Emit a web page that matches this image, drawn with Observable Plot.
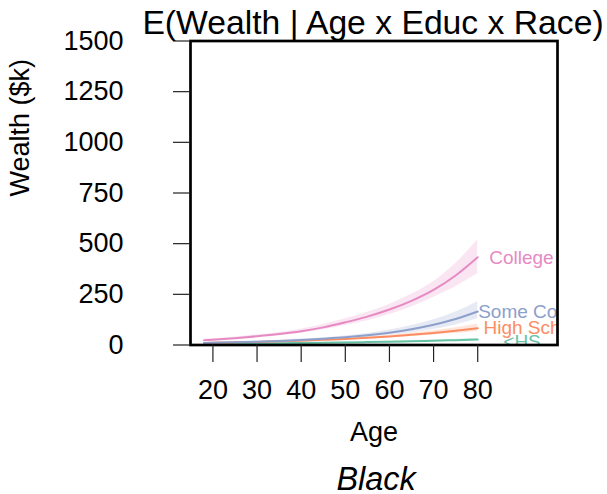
<!DOCTYPE html>
<html><head><meta charset="utf-8">
<script src="https://cdn.jsdelivr.net/npm/d3@7"></script>
<script src="https://cdn.jsdelivr.net/npm/@observablehq/plot@0.6"></script>
<style>body{margin:0;background:#fff}</style>
</head><body><div id="chart"></div>
<script>
// Categories and colours
const educLevels = ["<HS", "High School", "Some College", "College"];
const educColors = ["#66C2A5", "#FC8D62", "#8DA0CB", "#E78AC3"];

// Ages at which the expected wealth is read
const ages = [18, 20, 25, 30, 35, 40, 45, 50, 55, 60, 65, 70, 75, 80];

// Expected wealth ($k) and interval, per education level
const meanLHS  = [5.5, 5.8, 6.6, 7.5, 8.5, 9.7, 11, 12.5, 14.2, 16.2, 18.4, 21, 23.8, 27];
const lowLHS   = [4.6, 4.9, 5.6, 6.4, 7.3, 8.3, 9.4, 10.7, 12.1, 13.7, 15.5, 17.6, 19.7, 22];
const highLHS  = [6.6, 6.9, 7.8, 8.8, 9.9, 11.3, 12.8, 14.6, 16.6, 19, 21.8, 25, 28.7, 33];

const meanHS   = [10, 11, 13, 15.4, 18.2, 21.5, 25.4, 30, 35.5, 42, 50, 59, 70, 83];
const lowHS    = [8.8, 9.7, 11.5, 13.6, 16, 19, 22.3, 26.2, 30.8, 36, 42, 49, 57, 66];
const highHS   = [11.3, 12.4, 14.7, 17.4, 20.6, 24.3, 28.8, 34.2, 40.8, 48.6, 58.5, 70, 85, 104];

const meanSC   = [10, 11, 13, 16, 20, 25, 31, 38, 48, 61, 78, 100, 128, 165];
const lowSC    = [8.5, 9.4, 11.2, 13.8, 17.3, 21.5, 26.5, 32, 39.5, 49, 61, 77, 99, 129];
const highSC   = [12, 13, 15.3, 18.6, 23.2, 29, 36, 45, 57, 74, 96, 125, 163, 214];

const meanCol  = [24, 26.3, 33.7, 43, 54, 68, 87, 112, 140, 175, 218, 272, 343, 433];
const lowCol   = [20, 22, 29, 37, 46, 58, 75, 96, 120, 150, 188, 236, 288, 351];
const highCol  = [28, 31, 40, 49, 62, 78, 101, 129, 161, 200, 250, 312, 402, 519];

// Direct labels: text, age and wealth where each sits
const labelTexts  = ["<HS", "High School", "Some College", "College"];
const labelAges   = [85.8, 81.3, 80.1, 82.6];
const labelValues = [17, 83, 165, 432];

// Axis ticks
const xTicks = [20, 30, 40, 50, 60, 70, 80];
const yTicks = [0, 250, 500, 750, 1000, 1250, 1500];

const titleText = "E(Wealth | Age x Educ x Race)";
const xLabel = "Age";
const yLabel = "Wealth ($k)";
const captionText = "Black";

const means = [meanLHS, meanHS, meanSC, meanCol];
const lows = [lowLHS, lowHS, lowSC, lowCol];
const highs = [highLHS, highHS, highSC, highCol];

const rows = [];
educLevels.forEach((e, i) => ages.forEach((a, j) => rows.push({educ: e, age: a, mean: means[i][j], lo: lows[i][j], hi: highs[i][j]})));
const labelRows = educLevels.map((e, i) => ({educ: e, label: labelTexts[i], age: labelAges[i], value: labelValues[i]}));

const font = "'Liberation Sans', Arial, Helvetica, sans-serif";

const chart = Plot.plot({
  width: 607, height: 494,
  marginTop: 40.5, marginBottom: 149.5, marginLeft: 190, marginRight: 50,
  x: {domain: [14.92, 98.08]},
  y: {domain: [0, 1500]},
  color: {domain: educLevels, range: educColors},
  style: {fontFamily: font, fontSize: "27px", background: "#fff", color: "#000"},
  marks: [
    Plot.areaY(rows, {x: "age", y1: "lo", y2: "hi", fill: "educ", z: "educ", fillOpacity: 0.22, curve: "monotone-x"}),
    Plot.lineY(rows, {x: "age", y: "mean", stroke: "educ", z: "educ", strokeWidth: 2, curve: "monotone-x"}),
    Plot.text(labelRows, {x: "age", y: "value", text: "label", fill: "educ", fontSize: 19, textAnchor: "start", lineAnchor: "middle", clip: true}),
    Plot.frame({stroke: "#000", strokeWidth: 2.7}),
    Plot.axisX({ticks: xTicks, tickSize: 17.5, tickPadding: 17, label: null, fontSize: 27, tickFormat: d => String(d), stroke: "#222", strokeWidth: 1.2}),
    Plot.axisY({ticks: yTicks, tickSize: 17, tickPadding: 50, label: null, fontSize: 27, tickFormat: d => String(d), stroke: "#222", strokeWidth: 1.2}),
    Plot.text([titleText], {frameAnchor: "top", text: d => d, lineAnchor: "bottom", dy: -7.2, dx: -1, fontSize: 33.7}),
    Plot.text([xLabel], {frameAnchor: "bottom", text: d => d, lineAnchor: "bottom", dy: 95.5, fontSize: 27}),
    Plot.text([yLabel], {frameAnchor: "left", text: d => d, rotate: -90, lineAnchor: "bottom", dx: -161.7, dy: 3.5, fontSize: 27}),
    Plot.text([captionText], {frameAnchor: "bottom", text: d => d, lineAnchor: "bottom", dy: 144.5, dx: 2, fontSize: 32.4, fontStyle: "italic"})
  ]
});
document.getElementById("chart").appendChild(chart);
</script>
</body></html>
